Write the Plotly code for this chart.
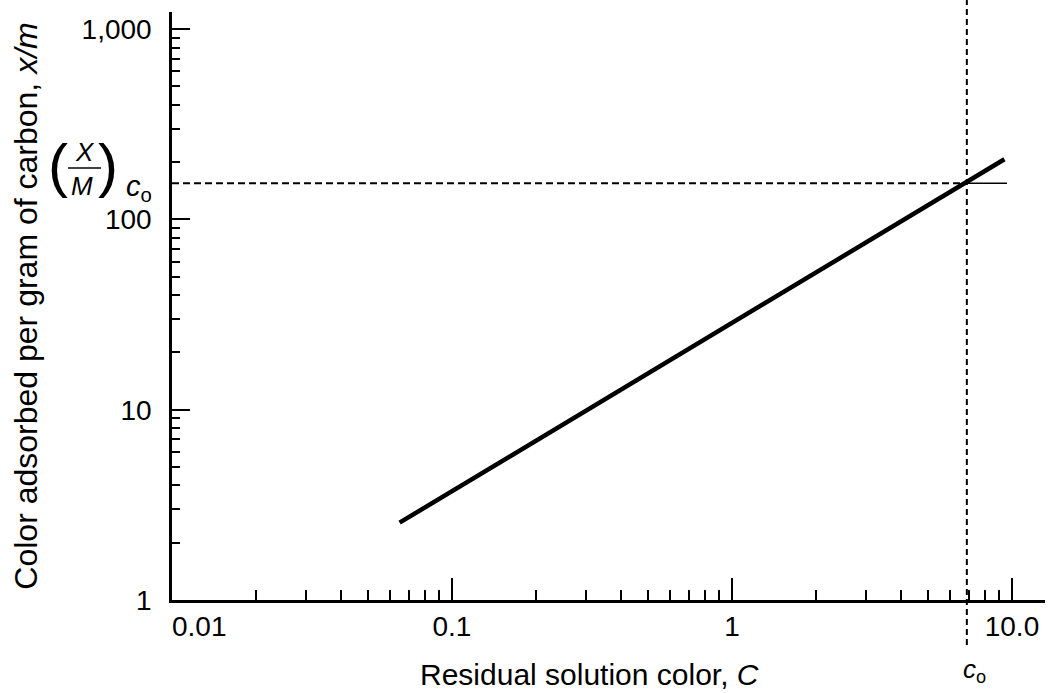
import plotly.graph_objects as go

# ---- data ----
line_x = [0.065, 9.4]          # isotherm end points (C)
line_y = [2.55, 207]           # isotherm end points (x/m)
c0 = 6.9                       # initial color c_o
xm_c0 = 155                    # (X/M) at c_o
stub_end_x = 9.6               # end of the short solid mark at (X/M)c_o

x_tickvals = [0.01, 0.1, 1, 10]
x_ticktext = ["\u00a0" * 7 + "0.01", "0.1", "1", "10.0"]
y_tickvals = [1, 10, 100, 1000]
y_ticktext = ["1", "10", "100", "1,000"]
x_minor = [m * 10.0 ** e for e in (-2, -1, 0) for m in range(2, 10)]
y_minor = [m * 10.0 ** e for e in (0, 1, 2) for m in range(2, 10)]

x_title = "Residual solution color, <i>C</i>"
y_title = "Color adsorbed per gram of carbon, <i>x/m</i>"

FONT = "Liberation Sans"

# plot-area geometry (pixels) used only to place text annotations
L, R, T, B = 172, 1045, 12, 600
W, H = 1048, 693


def px(x):
    return (x - L) / (R - L)


def py(y):
    return (B - y) / (B - T)


fig = go.Figure()

# horizontal dashed guide from the y axis to c_o
fig.add_trace(go.Scatter(
    x=[x_tickvals[0], c0], y=[xm_c0, xm_c0], mode="lines",
    line=dict(color="black", width=2, dash="7px,4px"), hoverinfo="skip"))

# short solid mark right of c_o
fig.add_trace(go.Scatter(
    x=[c0, stub_end_x], y=[xm_c0, xm_c0], mode="lines",
    line=dict(color="black", width=1.6), hoverinfo="skip"))

# isotherm line
fig.add_trace(go.Scatter(
    x=line_x, y=line_y, mode="lines",
    line=dict(color="black", width=4.5), hoverinfo="skip"))

# vertical dashed guide at c_o (extends above and below plot)
fig.add_shape(type="line", xref="x", yref="paper", x0=c0, x1=c0,
              y0=py(645), y1=py(0),
              line=dict(color="black", width=2, dash="6px,4px"))

# fraction bar for X/M
fig.add_shape(type="line", xref="paper", yref="paper",
              x0=px(68), x1=px(101), y0=py(168), y1=py(168),
              line=dict(color="black", width=1.5))

annotations = [
    dict(text="(", x=px(58), y=py(166), xanchor="center", yanchor="middle",
         font=dict(family=FONT, size=60, color="black")),
    dict(text=")", x=px(108), y=py(166), xanchor="center", yanchor="middle",
         font=dict(family=FONT, size=60, color="black")),
    dict(text="<i>X</i>", x=px(85), y=py(152), xanchor="center", yanchor="middle",
         font=dict(family=FONT, size=26, color="black")),
    dict(text="<i>M</i>", x=px(82), y=py(186), xanchor="center", yanchor="middle",
         font=dict(family=FONT, size=26, color="black")),
    dict(text="<i>c</i><sub>o</sub>", x=px(124), y=py(188), xanchor="left",
         yanchor="middle", font=dict(family=FONT, size=29, color="black")),
    dict(text="<i>c</i><sub>o</sub>", x=px(974), y=py(670), xanchor="center",
         yanchor="middle", font=dict(family=FONT, size=26, color="black")),
    dict(text=x_title, x=px(589), y=py(674), xanchor="center", yanchor="middle",
         font=dict(family=FONT, size=30, color="black")),
]
for a in annotations:
    fig.add_annotation(xref="paper", yref="paper", showarrow=False, **a)

fig.update_layout(
    width=W, height=H,
    margin=dict(l=L, r=W - R, t=T, b=H - B),
    plot_bgcolor="white", paper_bgcolor="white",
    showlegend=False,
    font=dict(family=FONT, color="black"),
)

fig.update_xaxes(
    type="log", range=[-2, 1.118],
    showline=True, linecolor="black", linewidth=2.5, mirror=False,
    showgrid=False, zeroline=False,
    ticks="inside", ticklen=22, tickwidth=2, tickcolor="black",
    tickmode="array", tickvals=x_tickvals, ticktext=x_ticktext,
    tickfont=dict(family=FONT, size=28, color="black"),
    minor=dict(ticks="inside", ticklen=10, tickwidth=2, tickcolor="black",
               tickmode="array", tickvals=x_minor, showgrid=False),
)

fig.update_yaxes(
    type="log", range=[0, 3.09],
    showline=True, linecolor="black", linewidth=2.5, mirror=False,
    showgrid=False, zeroline=False,
    ticks="inside", ticklen=18, tickwidth=2, tickcolor="black",
    tickmode="array", tickvals=y_tickvals, ticktext=y_ticktext,
    tickfont=dict(family=FONT, size=28, color="black"), ticklabelstandoff=12,
    minor=dict(ticks="inside", ticklen=8, tickwidth=2, tickcolor="black",
               tickmode="array", tickvals=y_minor, showgrid=False),
    title=dict(text=y_title, font=dict(family=FONT, size=32, color="black"),
               standoff=35),
)

fig.write_html("out.html", config={"displayModeBar": False},
               post_script="document.body.style.margin='0';")
